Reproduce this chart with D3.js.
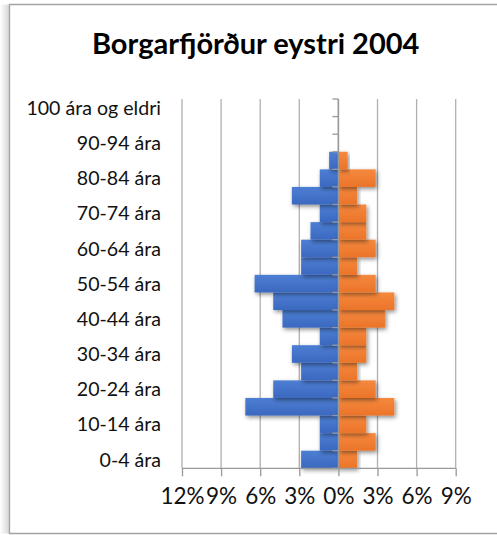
<!DOCTYPE html>
<html>
<head>
<meta charset="utf-8">
<script src="https://cdn.jsdelivr.net/npm/d3@7"></script>
<style>
  body { margin: 0; background: #fff; }
  svg { display: block; }
</style>
</head>
<body>
<script>
var ageGroups = ["0-4 ára", "5-9 ára", "10-14 ára", "15-19 ára", "20-24 ára", "25-29 ára",
  "30-34 ára", "35-39 ára", "40-44 ára", "45-49 ára", "50-54 ára", "55-59 ára",
  "60-64 ára", "65-69 ára", "70-74 ára", "75-79 ára", "80-84 ára", "85-89 ára",
  "90-94 ára", "95-99 ára", "100 ára og eldri"];

// hlutfall af íbúum (%)
var karlar = [2.86, 1.43, 1.43, 7.14, 5.00, 2.86, 3.57, 1.43, 4.29, 5.00, 6.43,
  2.86, 2.86, 2.14, 1.43, 3.57, 1.43, 0.71, 0, 0, 0];
var konur = [1.43, 2.86, 2.14, 4.29, 2.86, 1.43, 2.14, 2.14, 3.57, 4.29, 2.86,
  1.43, 2.86, 2.14, 2.14, 1.43, 2.86, 0.71, 0, 0, 0];

var tickValues = [-12, -9, -6, -3, 0, 3, 6, 9];
var title = "Borgarfjörður eystri 2004";

var w = 497, h = 535;
var plotTop = 99, plotBottom = 468.3, plotLeft = 182, plotRight = 455.7;

var svg = d3.select("body").append("svg")
  .attr("width", w)
  .attr("height", h);

var defs = svg.append("defs");

var shade = defs.append("linearGradient").attr("id", "leftShade");
shade.append("stop").attr("offset", "0").attr("stop-color", "#fff");
shade.append("stop").attr("offset", "1").attr("stop-color", "#d4d4d4");

function barGradient(id, top, bottom) {
  var g = defs.append("linearGradient").attr("id", id)
    .attr("x1", 0).attr("y1", 0).attr("x2", 0).attr("y2", 1);
  g.append("stop").attr("offset", "0").attr("stop-color", top);
  g.append("stop").attr("offset", "1").attr("stop-color", bottom);
}
barGradient("blueFill", "#4d7fd4", "#3b68bf");
barGradient("orangeFill", "#f5893f", "#eb7428");

var shadow = defs.append("filter").attr("id", "barShadow")
  .attr("x", "-20%").attr("y", "-50%").attr("width", "140%").attr("height", "200%");
shadow.append("feDropShadow")
  .attr("dx", 1.5).attr("dy", 2)
  .attr("stdDeviation", 2.2)
  .attr("flood-color", "#000")
  .attr("flood-opacity", 0.45);

// skuggi og rammi um myndina
svg.append("rect")
  .attr("x", 0).attr("y", 4.5).attr("width", 9.5).attr("height", 529)
  .attr("fill", "url(#leftShade)");
svg.append("path")
  .attr("d", "M" + w + ",4.5H9.5V533.5H" + w)
  .attr("fill", "none")
  .attr("stroke", "#a3a3a3")
  .attr("stroke-width", 1.3);

svg.append("text")
  .attr("x", 255.7)
  .attr("y", 54)
  .attr("text-anchor", "middle")
  .attr("font-family", "Lato, 'Open Sans', sans-serif")
  .attr("font-weight", "bold")
  .attr("font-size", 29)
  .attr("fill", "#000")
  .text(title);

var x = d3.scaleLinear()
  .domain([-12, 9])
  .range([plotLeft, plotRight]);

var y = d3.scaleBand()
  .domain(d3.range(ageGroups.length))
  .range([plotBottom, plotTop])
  .padding(0);

// hnitalínur
svg.append("g")
  .selectAll("line")
  .data(tickValues)
  .enter().append("line")
    .attr("x1", function(d) { return x(d); })
    .attr("x2", function(d) { return x(d); })
    .attr("y1", plotTop)
    .attr("y2", plotBottom)
    .attr("stroke", "#b0b0b0")
    .attr("stroke-width", 1.3);

var bars = svg.append("g");

bars.selectAll("rect.karlar")
  .data(karlar)
  .enter().append("rect")
    .attr("class", "karlar")
    .attr("x", function(d) { return x(-d); })
    .attr("y", function(_, i) { return y(i); })
    .attr("width", function(d) { return x(0) - x(-d); })
    .attr("height", y.bandwidth())
    .attr("fill", "url(#blueFill)")
    .attr("filter", function(d) { return d > 0 ? "url(#barShadow)" : null; });

bars.selectAll("rect.konur")
  .data(konur)
  .enter().append("rect")
    .attr("class", "konur")
    .attr("x", x(0))
    .attr("y", function(_, i) { return y(i); })
    .attr("width", function(d) { return x(d) - x(0); })
    .attr("height", y.bandwidth())
    .attr("fill", "url(#orangeFill)")
    .attr("filter", function(d) { return d > 0 ? "url(#barShadow)" : null; });

// lóðréttur ás við 0%
var axisColor = "#999";
svg.append("line")
  .attr("x1", x(0)).attr("x2", x(0))
  .attr("y1", plotTop).attr("y2", plotBottom)
  .attr("stroke", axisColor)
  .attr("stroke-width", 1.5);

var boundaries = d3.range(ageGroups.length + 1).map(function(i) {
  return i < ageGroups.length ? y(i) + y.bandwidth() : y(i - 1);
});
svg.append("g")
  .selectAll("line")
  .data(boundaries)
  .enter().append("line")
    .attr("x1", x(0) - 6).attr("x2", x(0))
    .attr("y1", function(d) { return d; })
    .attr("y2", function(d) { return d; })
    .attr("stroke", axisColor)
    .attr("stroke-width", 1.3);

// láréttur ás
var xAxis = d3.axisBottom(x)
  .tickValues(tickValues)
  .tickSize(8)
  .tickPadding(12)
  .tickFormat(function(d) { return Math.abs(d) + "%"; });

var gx = svg.append("g")
  .attr("transform", "translate(0," + plotBottom + ")")
  .call(xAxis);
gx.select(".domain").attr("stroke", axisColor).attr("stroke-width", 1.3)
  .attr("d", "M" + plotLeft + ",0H" + plotRight);
gx.selectAll(".tick line").attr("stroke", axisColor).attr("stroke-width", 1.3);
gx.selectAll(".tick text")
  .attr("font-family", "Lato, 'Open Sans', sans-serif")
  .attr("font-size", 22.5)
  .attr("fill", "#111")
  .attr("dy", "0.71em");

// flokkaheiti, annað hvert
svg.append("g")
  .selectAll("text")
  .data(ageGroups.filter(function(_, i) { return i % 2 === 0; }))
  .enter().append("text")
    .attr("x", 161)
    .attr("y", function(d) { return y(ageGroups.indexOf(d)) + y.bandwidth() / 2; })
    .attr("dy", "0.36em")
    .attr("text-anchor", "end")
    .attr("font-family", "Lato, 'Open Sans', sans-serif")
    .attr("font-size", 19.6)
    .attr("fill", "#111")
    .text(function(d) { return d; });
</script>
</body>
</html>
